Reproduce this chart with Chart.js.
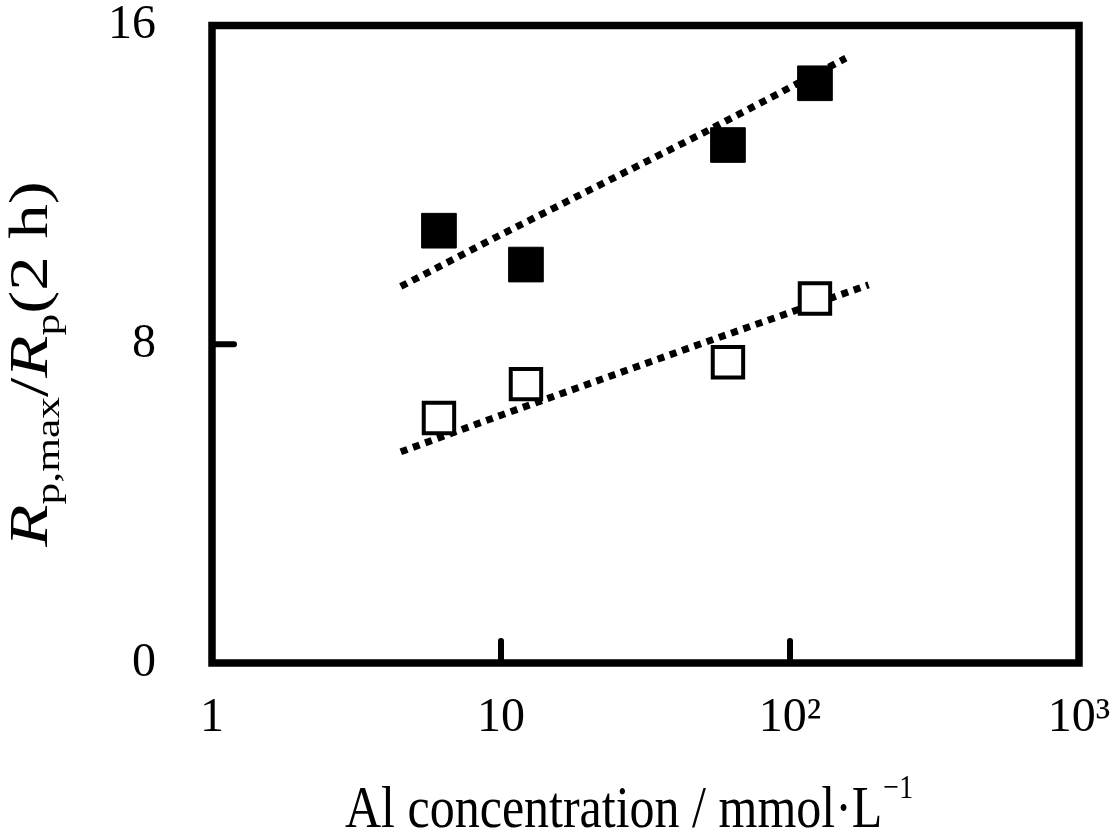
<!DOCTYPE html>
<html>
<head>
<meta charset="utf-8">
<script src="https://cdn.jsdelivr.net/npm/chart.js@4/dist/chart.umd.min.js"></script>
<style>
  html, body { margin: 0; padding: 0; background: #ffffff; }
  #wrap { width: 1115px; height: 835px; }
</style>
</head>
<body>
<div id="wrap"><canvas id="c" width="1115" height="835"></canvas></div>
<script>
// ---- data ----
const concentrations = [6.1, 12.2, 61, 122];          // Al concentration / mmol·L^-1
const ratioFilled = [10.85, 10.0, 13.0, 14.55];        // filled squares
const ratioOpen = [6.15, 7.0, 7.55, 9.15];             // open squares
const trendFilledX = [4.5, 10, 20, 50, 156];
const trendFilledY = [9.45, 10.75, 11.85, 13.3, 15.18];
const trendOpenX = [4.5, 10, 20, 50, 187];
const trendOpenY = [5.3, 6.22, 7.0, 8.03, 9.49];
const xTickValues = [1, 10, 100, 1000];
const xTickLabels = ['1', '10', '10²', '10³'];
const yTickValues = [0, 8, 16];
const innerXTicks = [10, 100];
const innerYTicks = [8];

const toPoints = (xs, ys) => xs.map((x, i) => ({ x: x, y: ys[i] }));
const SERIF = '"Liberation Serif", "Times New Roman", serif';

const framePlugin = {
  id: 'frame',
  beforeDatasetsDraw(chart) {
    const { ctx, chartArea: a, scales } = chart;
    ctx.save();
    ctx.strokeStyle = '#000';
    ctx.lineWidth = 7.5;
    ctx.lineJoin = 'miter';
    ctx.strokeRect(a.left, a.top, a.right - a.left, a.bottom - a.top);
    ctx.lineWidth = 6;
    ctx.lineCap = 'round';
    innerXTicks.forEach(v => {
      const px = scales.x.getPixelForValue(v);
      ctx.beginPath();
      ctx.moveTo(px, a.bottom);
      ctx.lineTo(px, a.bottom - 22);
      ctx.stroke();
    });
    innerYTicks.forEach(v => {
      const py = scales.y.getPixelForValue(v);
      ctx.beginPath();
      ctx.moveTo(a.left, py);
      ctx.lineTo(a.left + 22, py);
      ctx.stroke();
    });
    ctx.restore();
  },
  afterDraw(chart) {
    const { ctx } = chart;
    ctx.save();
    ctx.fillStyle = '#000';
    ctx.textBaseline = 'alphabetic';
    // x-axis title (slightly stretched vertically like the reference)
    const main = 'Al concentration / mmol·L';
    const sup = '−1';
    ctx.save();
    ctx.translate(345, 827);
    ctx.scale(1, 1.2);
    ctx.font = '50px ' + SERIF;
    const wMain = ctx.measureText(main).width;
    ctx.fillText(main, 0, 0);
    ctx.font = '28px ' + SERIF;
    ctx.fillText(sup, wMain + 1, -24);
    ctx.restore();

    // y-axis title (rotated, stretched along its reading direction)
    const pieces = [
      { t: 'R', font: 'italic 54px ' + SERIF, dy: 0 },
      { t: 'p,max', font: '34px ' + SERIF, dy: 12 },
      { t: '/', font: '54px ' + SERIF, dy: 0 },
      { t: 'R', font: 'italic 54px ' + SERIF, dy: 0 },
      { t: 'p', font: '34px ' + SERIF, dy: 12 },
      { t: '(2 h)', font: '54px ' + SERIF, dy: 0 }
    ];
    let total = 0;
    pieces.forEach(p => { ctx.font = p.font; p.w = ctx.measureText(p.t).width; total += p.w; });
    ctx.translate(47, 364);
    ctx.rotate(-Math.PI / 2);
    ctx.scale(1.28, 1);
    let x = -total / 2;
    pieces.forEach(p => { ctx.font = p.font; ctx.fillText(p.t, x, p.dy); x += p.w; });
    ctx.restore();
  }
};

new Chart(document.getElementById('c'), {
  type: 'scatter',
  data: {
    datasets: [
      {
        label: 'filled',
        data: toPoints(concentrations, ratioFilled),
        pointStyle: 'rect',
        pointRadius: 24.5,
        pointHoverRadius: 24.5,
        backgroundColor: '#000',
        borderColor: '#000',
        borderWidth: 1,
        order: 0
      },
      {
        label: 'open',
        data: toPoints(concentrations, ratioOpen),
        pointStyle: 'rect',
        pointRadius: 21.5,
        pointHoverRadius: 21.5,
        backgroundColor: '#fff',
        borderColor: '#000',
        borderWidth: 4,
        order: 0
      },
      {
        label: 'trend filled',
        data: toPoints(trendFilledX, trendFilledY),
        showLine: true,
        pointRadius: 0,
        borderColor: '#000',
        borderWidth: 7,
        borderDash: [7, 6],
        borderCapStyle: 'butt',
        tension: 0,
        order: 1
      },
      {
        label: 'trend open',
        data: toPoints(trendOpenX, trendOpenY),
        showLine: true,
        pointRadius: 0,
        borderColor: '#000',
        borderWidth: 7,
        borderDash: [7, 6],
        borderCapStyle: 'butt',
        tension: 0,
        order: 1
      }
    ]
  },
  options: {
    responsive: false,
    animation: false,
    devicePixelRatio: 1,
    layout: { padding: { top: 25, right: 36, left: 0, bottom: 0 } },
    plugins: { legend: { display: false }, tooltip: { enabled: false } },
    scales: {
      x: {
        type: 'logarithmic',
        min: 1,
        max: 1000,
        afterBuildTicks: s => { s.ticks = xTickValues.map(v => ({ value: v })); },
        afterFit: s => { s.height = 172; s.paddingLeft = 0; s.paddingRight = 0; },
        grid: { display: false, drawTicks: false },
        border: { display: false },
        ticks: {
          color: '#000',
          font: { family: SERIF, size: 48 },
          padding: 27,
          maxRotation: 0,
          autoSkip: false,
          callback: v => xTickLabels[xTickValues.indexOf(v)]
        }
      },
      y: {
        type: 'linear',
        min: 0,
        max: 16,
        afterBuildTicks: s => { s.ticks = yTickValues.map(v => ({ value: v })); },
        afterFit: s => { s.width = 212; s.paddingTop = 0; s.paddingBottom = 0; },
        grid: { display: false, drawTicks: false },
        border: { display: false },
        ticks: {
          color: '#000',
          font: { family: SERIF, size: 48 },
          padding: 56,
          callback: v => String(v)
        }
      }
    }
  },
  plugins: [framePlugin]
});
</script>
</body>
</html>
